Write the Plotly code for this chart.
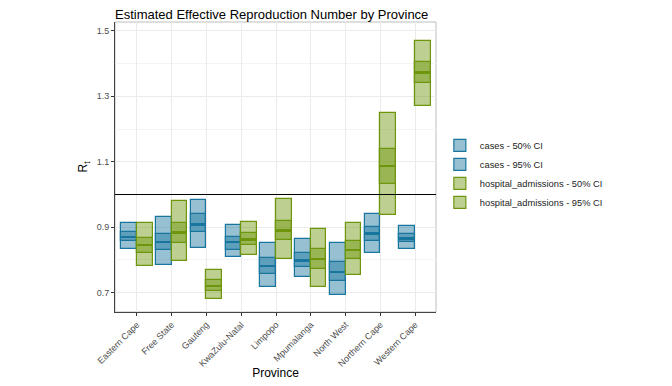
import plotly.graph_objects as go

provinces = ["Eastern Cape", "Free State", "Gauteng", "KwaZulu-Natal", "Limpopo",
             "Mpumalanga", "North West", "Northern Cape", "Western Cape"]

cases_lower95 = [0.833, 0.786, 0.838, 0.808, 0.718, 0.747, 0.692, 0.822, 0.833]
cases_lower50 = [0.857, 0.829, 0.884, 0.831, 0.757, 0.778, 0.737, 0.859, 0.855]
cases_median  = [0.871, 0.856, 0.909, 0.856, 0.782, 0.799, 0.764, 0.882, 0.866]
cases_upper50 = [0.886, 0.880, 0.939, 0.871, 0.806, 0.820, 0.794, 0.900, 0.878]
cases_upper95 = [0.912, 0.930, 0.982, 0.906, 0.852, 0.864, 0.852, 0.941, 0.903]

hosp_lower95 = [0.782, 0.798, 0.680, 0.815, 0.802, 0.716, 0.753, 0.936, 1.271]
hosp_lower50 = [0.822, 0.853, 0.706, 0.845, 0.861, 0.772, 0.802, 1.031, 1.341]
hosp_median  = [0.847, 0.885, 0.722, 0.863, 0.891, 0.804, 0.831, 1.087, 1.373]
hosp_upper50 = [0.868, 0.914, 0.739, 0.882, 0.920, 0.835, 0.858, 1.140, 1.404]
hosp_upper95 = [0.914, 0.980, 0.769, 0.915, 0.985, 0.896, 0.912, 1.249, 1.468]

series = [
    ("cases", (24, 118, 158), -0.45,
     cases_lower95, cases_lower50, cases_median, cases_upper50, cases_upper95),
    ("hospital_admissions", (110, 150, 12), 0.0,
     hosp_lower95, hosp_lower50, hosp_median, hosp_upper50, hosp_upper95),
]

W = 0.45
fig = go.Figure()
for name, (r, g, b), off, lo95, lo50, med, up50, up95 in series:
    line_c = f"rgb({r},{g},{b})"
    fill_c = f"rgba({r},{g},{b},0.45)"
    fig.add_trace(go.Bar(
        x=provinces, base=lo95, y=[u - l for u, l in zip(up95, lo95)],
        offset=off, width=W, name=f"{name} - 95% CI", legendrank=2 if name == "cases" else 4,
        marker=dict(color=fill_c, line=dict(color=line_c, width=1.2)),
    ))
    fig.add_trace(go.Bar(
        x=provinces, base=lo50, y=[u - l for u, l in zip(up50, lo50)],
        offset=off, width=W, name=f"{name} - 50% CI", legendrank=1 if name == "cases" else 3,
        marker=dict(color=fill_c, line=dict(color=line_c, width=1.2)),
    ))
    fig.add_trace(go.Bar(
        x=provinces, base=[m - 0.003 for m in med], y=[0.006] * len(med),
        offset=off, width=W, showlegend=False, hoverinfo="skip",
        marker=dict(color=line_c, line=dict(width=0)),
    ))

fig.add_shape(type="line", xref="paper", yref="y", x0=0, x1=1, y0=1.0, y1=1.0,
              line=dict(color="black", width=1.2), layer="above")
fig.add_shape(type="rect", xref="paper", yref="paper", x0=0, x1=1, y0=0, y1=1,
              line=dict(color="#bdbdbd", width=1), layer="below")

fig.update_layout(
    width=672, height=386,
    barmode="overlay",
    plot_bgcolor="white", paper_bgcolor="white",
    font=dict(family="Liberation Sans, Arial, sans-serif", color="#222"),
    margin=dict(l=107, r=244, t=14, b=82, autoexpand=False),
    title=dict(text="Estimated Effective Reproduction Number by Province",
               x=107 / 672, xanchor="left", xref="container",
               y=1 - 6 / 386, yanchor="middle", yref="container",
               font=dict(size=13, color="black")),
    legend=dict(x=1.012, xanchor="left", y=0.476, yanchor="middle",
                font=dict(size=9.3, color="#222"), traceorder="normal",
                itemwidth=30, tracegroupgap=0),
    bargap=0,
)
fig.update_xaxes(
    automargin=False,
    showgrid=True, gridcolor="#ebebeb", gridwidth=1,
    ticks="outside", ticklen=3, tickcolor="#333", tickangle=-45,
    tickfont=dict(size=9, color="#4d4d4d"),
    showline=True, linecolor="#444", linewidth=1,
    title=dict(text="Province", font=dict(size=12, color="black"), standoff=0),
    range=[-0.63, 8.6],
)
fig.update_yaxes(
    automargin=False,
    range=[0.641, 1.527], tickvals=[0.7, 0.9, 1.1, 1.3, 1.5],
    ticktext=["0.7", "0.9", "1.1", "1.3", "1.5"],
    showgrid=True, gridcolor="#ebebeb", gridwidth=1,
    minor=dict(tickvals=[0.8, 1.0, 1.2, 1.4], showgrid=True, gridcolor="#f4f4f4", ticks=""),
    ticks="outside", ticklen=3, tickcolor="#333",
    tickfont=dict(size=9, color="#4d4d4d"),
    showline=True, linecolor="#444", linewidth=1, zeroline=False,
    title=dict(text="R<sub>t</sub>", font=dict(size=12, color="black"), standoff=6),
)

fig.write_html("out.html")
